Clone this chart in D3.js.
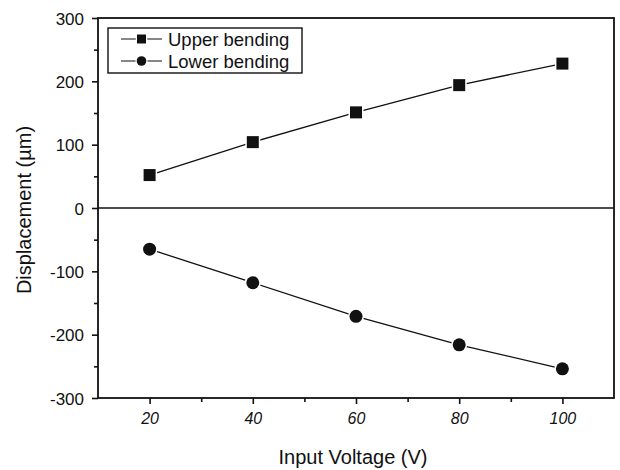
<!DOCTYPE html>
<html>
<head>
<meta charset="utf-8">
<script src="https://cdn.jsdelivr.net/npm/d3@7"></script>
<style>
  body { margin: 0; background: #fff; }
  text { font-family: Arial, "Liberation Sans", sans-serif; fill: #111; }
</style>
</head>
<body>
<div id="chart"></div>
<script>
var voltage = [20, 40, 60, 80, 100];
var upperBending = [52, 104, 151, 194, 228];
var lowerBending = [-65, -118, -171, -216, -254];
var seriesNames = ["Upper bending", "Lower bending"];
var xTicks = [20, 40, 60, 80, 100];
var xMinor = [30, 50, 70, 90];
var yTicks = [-300, -200, -100, 0, 100, 200, 300];
var yMinor = [-250, -150, -50, 50, 150, 250];

var width = 620, height = 470;
var margin = {top: 18, right: 6, bottom: 72, left: 98};
var w = width - margin.left - margin.right,
    h = height - margin.top - margin.bottom;

var svg = d3.select("#chart").append("svg")
  .attr("width", width)
  .attr("height", height);

var g = svg.append("g").attr("transform", "translate(" + margin.left + "," + margin.top + ")");

var x = d3.scaleLinear().domain([10, 110]).range([0, w]);
var y = d3.scaleLinear().domain([-300, 300]).range([h, 0]);

// zero line
g.append("line")
  .attr("x1", 0).attr("x2", w)
  .attr("y1", y(0)).attr("y2", y(0))
  .attr("stroke", "#111").attr("stroke-width", 1.6);

// frame
g.append("rect")
  .attr("width", w).attr("height", h)
  .attr("fill", "none").attr("stroke", "#111").attr("stroke-width", 1.8);

// x axis
var xAxis = g.append("g").attr("transform", "translate(0," + h + ")")
  .call(d3.axisBottom(x).tickValues(xTicks).tickSize(6).tickPadding(9));
g.append("g").attr("transform", "translate(0," + h + ")")
  .call(d3.axisBottom(x).tickValues(xMinor).tickSize(4).tickFormat(""));

xAxis.selectAll("text")
  .style("font-size", "16px").style("font-style", "italic");

// y axis, plain hyphen for negatives like the original
var yAxis = g.append("g")
  .call(d3.axisLeft(y).tickValues(yTicks).tickSize(6).tickPadding(8)
    .tickFormat(function(d) { return String(d); }));
g.append("g")
  .call(d3.axisLeft(y).tickValues(yMinor).tickSize(4).tickFormat(""));

yAxis.selectAll("text")
  .style("font-size", "17px").attr("dy", "0.36em");

g.selectAll(".domain").remove();
g.selectAll(".tick line").attr("stroke", "#111").attr("stroke-width", 1.6);

// axis titles
svg.append("text")
  .attr("x", margin.left + w / 2 - 3).attr("y", 464)
  .attr("text-anchor", "middle")
  .style("font-size", "20px")
  .text("Input Voltage (V)");

svg.append("text")
  .attr("transform", "translate(31," + (margin.top + h / 2 + 2) + ") rotate(-90)")
  .attr("text-anchor", "middle")
  .style("font-size", "20px")
  .text("Displacement (\u00b5m)");

var line = d3.line()
  .x(function(d, i) { return x(voltage[i]); })
  .y(function(d) { return y(d); });

[upperBending, lowerBending].forEach(function(series) {
  g.append("path")
    .datum(series)
    .attr("d", line)
    .attr("fill", "none")
    .attr("stroke", "#111")
    .attr("stroke-width", 1.3);
});

// markers (white halo gives the broken-line look)
g.selectAll(".sq").data(upperBending).enter().append("rect")
  .attr("x", function(d, i) { return x(voltage[i]) - 6; })
  .attr("y", function(d) { return y(d) - 6; })
  .attr("width", 12).attr("height", 12)
  .attr("fill", "#111").attr("stroke", "#fff").attr("stroke-width", 3)
  .attr("paint-order", "stroke");

g.selectAll(".ci").data(lowerBending).enter().append("circle")
  .attr("cx", function(d, i) { return x(voltage[i]); })
  .attr("cy", function(d) { return y(d); })
  .attr("r", 6.5)
  .attr("fill", "#111").attr("stroke", "#fff").attr("stroke-width", 3)
  .attr("paint-order", "stroke");

// legend
var legend = svg.append("g").attr("transform", "translate(108,28)");
legend.append("rect")
  .attr("width", 194).attr("height", 45)
  .attr("fill", "#fff").attr("stroke", "#111").attr("stroke-width", 1.4);

seriesNames.forEach(function(name, i) {
  var ly = 11 + i * 22;
  var row = legend.append("g").attr("transform", "translate(0," + ly + ")");
  row.append("line").attr("x1", 13).attr("x2", 54)
    .attr("stroke", "#111").attr("stroke-width", 1.2);
  if (i === 0) {
    row.append("rect").attr("x", 29).attr("y", -4.5).attr("width", 9).attr("height", 9)
      .attr("fill", "#111").attr("stroke", "#fff").attr("stroke-width", 2.5)
      .attr("paint-order", "stroke");
  } else {
    row.append("circle").attr("cx", 33.5).attr("r", 4.8)
      .attr("fill", "#111").attr("stroke", "#fff").attr("stroke-width", 2.5)
      .attr("paint-order", "stroke");
  }
  row.append("text").attr("x", 60).attr("dy", "0.36em")
    .style("font-size", "18.5px")
    .text(name);
});
</script>
</body>
</html>
